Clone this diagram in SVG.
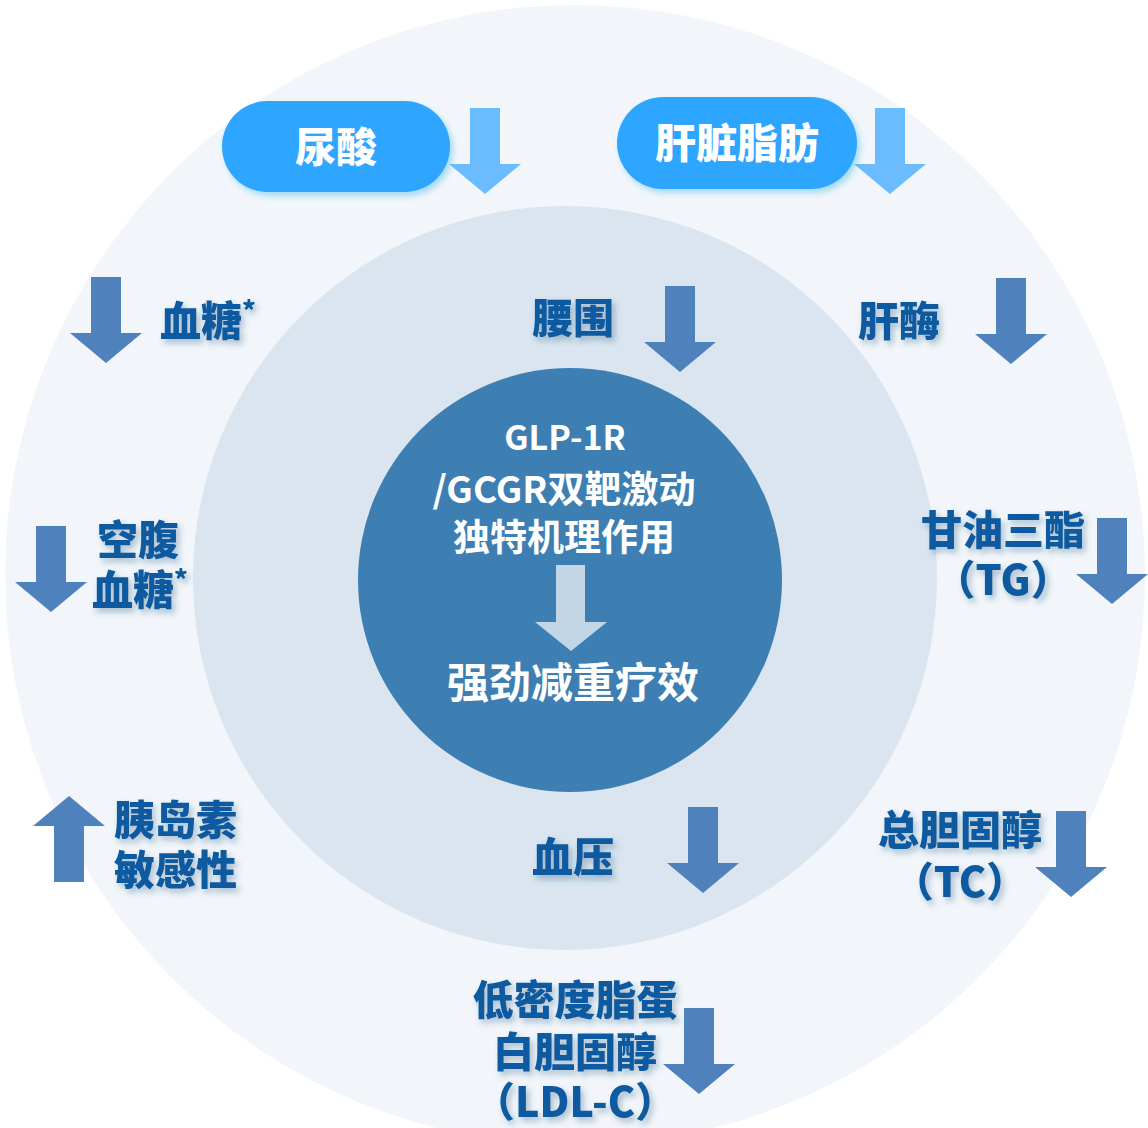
<svg xmlns="http://www.w3.org/2000/svg" width="1148" height="1128" viewBox="0 0 1148 1128">
<defs>
<style>
.lbl{font-family:"Noto Sans CJK SC","Noto Sans",sans-serif;font-weight:900;font-size:41px;fill:#0E5AA0;filter:url(#ts)}
.pilltxt{font-family:"Noto Sans CJK SC","Noto Sans",sans-serif;font-weight:900;font-size:41px;fill:#FFFFFF}
.ctr{font-family:"Noto Sans CJK SC","Open Sans",sans-serif;font-weight:700;fill:#FFFFFF}
.sup{font-size:26px}
.darr{fill:#4F82BC}
.larr{fill:#6BBCFF}
.pill{fill:#2EA5FF;filter:url(#ps)}
</style>
<filter id="ts" x="-20%" y="-30%" width="150%" height="170%">
<feDropShadow dx="3" dy="4" stdDeviation="3" flood-color="#1F4E79" flood-opacity="0.35"/>
</filter>
<filter id="ps" x="-20%" y="-30%" width="140%" height="170%">
<feDropShadow dx="3" dy="4" stdDeviation="3" flood-color="#3FB6E8" flood-opacity="0.45"/>
</filter>
<path id="down" d="M-15,0 H15 V56 H36 L0,86 L-36,56 H-15 Z"/>
</defs>
<rect width="1148" height="1128" fill="#FFFFFF"/>
<g id="rings">
<circle cx="575" cy="575" r="570" fill="#F2F6FA"/>
<circle cx="565" cy="578" r="372" fill="#DAE5EF"/>
<circle cx="570" cy="580" r="212" fill="#3E7FB3"/>
</g>
<g id="connectors">
<use href="#down" class="larr" x="485" y="108"/>
<use href="#down" class="larr" x="890" y="108"/>
<use href="#down" class="darr" x="106" y="277"/>
<use href="#down" class="darr" x="680" y="286"/>
<use href="#down" class="darr" x="1011" y="278"/>
<use href="#down" class="darr" x="51" y="526"/>
<use href="#down" class="darr" x="1112" y="518"/>
<use href="#down" class="darr" transform="translate(69,882) scale(1,-1)"/>
<use href="#down" class="darr" x="703" y="807"/>
<use href="#down" class="darr" x="1071" y="811"/>
<use href="#down" class="darr" x="699" y="1008"/>
<path d="M556,565 H585 V622 H607 L571,651 L535,622 H556 Z" fill="#C3D6E6"/>
</g>
<g id="node-uric">
<rect x="222" y="101" width="228" height="91" rx="45.5" class="pill"/>
<text x="336" y="162" text-anchor="middle" class="pilltxt">尿酸</text>
</g>
<g id="node-liverfat">
<rect x="617" y="97" width="240" height="92" rx="46" class="pill"/>
<text x="737" y="158" text-anchor="middle" class="pilltxt">肝脏脂肪</text>
</g>
<g id="node-center">
<text x="565" y="450" text-anchor="middle" class="ctr" font-size="34">GLP-1R</text>
<text x="564" y="503" text-anchor="middle" class="ctr" font-size="37">/GCGR双靶激动</text>
<text x="564" y="551" text-anchor="middle" class="ctr" font-size="37">独特机理作用</text>
<text x="573" y="698" text-anchor="middle" class="ctr" font-size="42">强劲减重疗效</text>
</g>
<g id="node-glucose">
<text x="160" y="336" class="lbl">血糖<tspan class="sup" dy="-16">*</tspan></text>
</g>
<g id="node-waist">
<text x="532" y="333" class="lbl">腰围</text>
</g>
<g id="node-liverenz">
<text x="858" y="336" class="lbl">肝酶</text>
</g>
<g id="node-fpg">
<text x="97" y="555" class="lbl">空腹</text>
<text x="92" y="605" class="lbl">血糖<tspan class="sup" dy="-16">*</tspan></text>
</g>
<g id="node-tg">
<text x="1003" y="545" text-anchor="middle" class="lbl">甘油三酯</text>
<text x="1003" y="595" text-anchor="middle" class="lbl" font-size="36">（TG）</text>
</g>
<g id="node-insulin">
<text x="114" y="835" class="lbl">胰岛素</text>
<text x="114" y="885" class="lbl">敏感性</text>
</g>
<g id="node-bp">
<text x="532" y="872" class="lbl">血压</text>
</g>
<g id="node-tc">
<text x="960" y="845" text-anchor="middle" class="lbl">总胆固醇</text>
<text x="960" y="897" text-anchor="middle" class="lbl" font-size="36">（TC）</text>
</g>
<g id="node-ldl">
<text x="575" y="1015" text-anchor="middle" class="lbl">低密度脂蛋</text>
<text x="575" y="1067" text-anchor="middle" class="lbl">白胆固醇</text>
<text x="575" y="1117" text-anchor="middle" class="lbl" font-size="36">（LDL-C）</text>
</g>
</svg>
